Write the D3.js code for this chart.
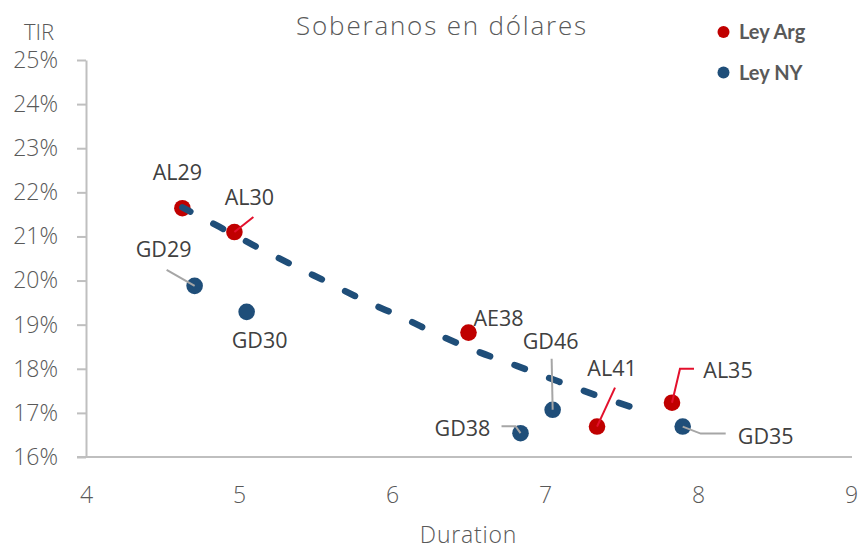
<!DOCTYPE html>
<html lang="es">
  <head>
    <meta charset="UTF-8" />
    <title>Soberanos en dólares</title>
    <script src="https://cdn.jsdelivr.net/npm/d3@7"></script>
    <style>
      body { margin: 0; background: #fff; }
      svg text { font-family: "Open Sans", "Noto Sans", sans-serif; }
      .tick text { fill: #595959; font-size: 23px; font-weight: 300; }
      .bond-label { fill: #404040; font-size: 21.5px; }
      .legend text { font-family: Lato, "Open Sans", sans-serif; font-weight: 700; font-size: 20px; fill: #595959; }
    </style>
  </head>
  <body>
    <script>
    // ---- data ----
    var argNames = ["AL29", "AL30", "AE38", "AL41", "AL35"];
    var argDuration = [4.63, 4.97, 6.50, 7.34, 7.83];
    var argTir = [21.64, 21.10, 18.82, 16.69, 17.23];

    var nyNames = ["GD29", "GD30", "GD38", "GD46", "GD35"];
    var nyDuration = [4.71, 5.05, 6.84, 7.05, 7.90];
    var nyTir = [19.88, 19.29, 16.54, 17.07, 16.69];

    // dashed trend curve, sampled along the drawn line
    var trendDuration = [4.63, 4.87, 5.09, 5.34, 5.58, 5.83, 6.07, 6.31, 6.56, 6.82, 7.09, 7.35, 7.65];
    var trendTir = [21.66, 21.22, 20.81, 20.37, 19.96, 19.53, 19.16, 18.76, 18.39, 18.06, 17.71, 17.38, 17.04];

    var xTicks = [4, 5, 6, 7, 8, 9];
    var yTicks = [16, 17, 18, 19, 20, 21, 22, 23, 24, 25];

    // label placement (pixel offsets from the marker) and leader lines
    var labelLayout = {
      AL29: { dx: -5, dy: -28 },
      AL30: { dx: 15, dy: -27, leader: [[19, -15], [0, 0]] },
      AE38: { dx: 30, dy: -7 },
      AL41: { dx: 15, dy: -51, leader: [[18, -39], [0, 0]] },
      AL35: { dx: 56, dy: -25, leader: [[22, -34], [8, -34], [0, 0]] },
      GD29: { dx: -31, dy: -29, leader: [[-28, -16], [0, 0]] },
      GD30: { dx: 13, dy: 36 },
      GD38: { dx: -58, dy: 3, leader: [[-19, -7], [-5, -7], [0, 0]] },
      GD46: { dx: -2, dy: -61, leader: [[-1, -51], [0, 0]] },
      GD35: { dx: 83, dy: 17, leader: [[0, 0], [18, 7], [43, 7]] }
    };

    var red = "#C00000";
    var blue = "#1F4E79";

    var width = 860;
    var height = 549;
    var margin = { top: 60, right: 9, bottom: 92, left: 86 };

    var svg = d3.select("body")
                .append("svg")
                .attr("width", width)
                .attr("height", height);

    var xScale = d3.scaleLinear()
                   .domain([4, 9])
                   .range([margin.left, width - margin.right]);

    var yScale = d3.scaleLinear()
                   .domain([16, 25])
                   .range([height - margin.bottom, margin.top]);

    // y axis
    var yAxis = d3.axisLeft(yScale)
                  .tickValues(yTicks)
                  .tickFormat(function(d) { return d + "%"; })
                  .tickSize(9)
                  .tickSizeOuter(0)
                  .tickPadding(19);

    var gy = svg.append("g")
                .attr("class", "y-axis")
                .attr("transform", "translate(" + margin.left + ",0)")
                .call(yAxis);
    gy.selectAll("line, path").attr("stroke", "#BFBFBF").attr("stroke-width", 2);

    // x axis
    var xAxis = d3.axisBottom(xScale)
                  .tickValues(xTicks)
                  .tickFormat(d3.format("d"))
                  .tickSize(0)
                  .tickPadding(30);

    var gx = svg.append("g")
                .attr("class", "x-axis")
                .attr("transform", "translate(0," + (height - margin.bottom) + ")")
                .call(xAxis);
    gx.select(".domain")
      .attr("d", "M" + (margin.left - 9) + ",0H" + (width - margin.right + 1))
      .attr("stroke", "#BFBFBF")
      .attr("stroke-width", 2);

    // titles
    svg.append("text")
       .attr("x", 442)
       .attr("y", 35)
       .attr("text-anchor", "middle")
       .attr("fill", "#595959")
       .style("font-size", "26px")
       .style("font-weight", 300)
       .style("letter-spacing", "1.8px")
       .text("Soberanos en dólares");

    svg.append("text")
       .attr("x", 39)
       .attr("y", 40)
       .attr("text-anchor", "middle")
       .attr("fill", "#595959")
       .style("font-size", "22px")
       .style("font-weight", 300)
       .text("TIR");

    svg.append("text")
       .attr("x", (xScale(4) + xScale(9)) / 2)
       .attr("y", 543)
       .attr("text-anchor", "middle")
       .attr("fill", "#595959")
       .style("font-size", "23px")
       .style("font-weight", 300)
       .style("letter-spacing", "0.8px")
       .text("Duration");

    // points
    var argData = argNames.map(function(n, i) { return { name: n, x: argDuration[i], y: argTir[i], color: red, lead: "#E3102C" }; });
    var nyData = nyNames.map(function(n, i) { return { name: n, x: nyDuration[i], y: nyTir[i], color: blue, lead: "#A6A6A6" }; });
    var allData = argData.concat(nyData);

    svg.selectAll("circle.pt")
       .data(allData)
       .enter().append("circle")
       .attr("class", "pt")
       .attr("r", 8.3)
       .attr("cx", function(d) { return xScale(d.x); })
       .attr("cy", function(d) { return yScale(d.y); })
       .style("fill", function(d) { return d.color; });

    // dashed trend line
    var trendData = trendDuration.map(function(d, i) { return [d, trendTir[i]]; });
    var line = d3.line()
                 .x(function(d) { return xScale(d[0]); })
                 .y(function(d) { return yScale(d[1]); })
                 .curve(d3.curveMonotoneX);

    svg.append("path")
       .datum(trendData)
       .attr("d", line)
       .attr("fill", "none")
       .attr("stroke", blue)
       .attr("stroke-width", 6.5)
       .attr("stroke-linecap", "round")
       .attr("stroke-dasharray", "11 26")
       .attr("stroke-dashoffset", 2);

    // leader lines
    svg.selectAll("path.leader")
       .data(allData.filter(function(d) { return labelLayout[d.name].leader; }))
       .enter().append("path")
       .attr("class", "leader")
       .attr("fill", "none")
       .attr("stroke", function(d) { return d.lead; })
       .attr("stroke-width", 2)
       .attr("d", function(d) {
         var px = xScale(d.x), py = yScale(d.y);
         return d3.line()(labelLayout[d.name].leader.map(function(p) { return [px + p[0], py + p[1]]; }));
       });

    // labels
    svg.selectAll("text.bond-label")
       .data(allData)
       .enter().append("text")
       .attr("class", "bond-label")
       .attr("text-anchor", "middle")
       .attr("x", function(d) { return xScale(d.x) + labelLayout[d.name].dx; })
       .attr("y", function(d) { return yScale(d.y) + labelLayout[d.name].dy; })
       .text(function(d) { return d.name; });

    // legend
    var legend = svg.append("g").attr("class", "legend");
    var legendItems = [{ name: "Ley Arg", color: red }, { name: "Ley NY", color: blue }];
    legend.selectAll("circle")
          .data(legendItems)
          .enter().append("circle")
          .attr("cx", 723.5)
          .attr("cy", function(d, i) { return 32 + i * 40.5; })
          .attr("r", 6)
          .style("fill", function(d) { return d.color; });
    legend.selectAll("text")
          .data(legendItems)
          .enter().append("text")
          .attr("x", 739)
          .attr("y", function(d, i) { return 39 + i * 40.5; })
          .text(function(d) { return d.name; });
    </script>
  </body>
</html>
